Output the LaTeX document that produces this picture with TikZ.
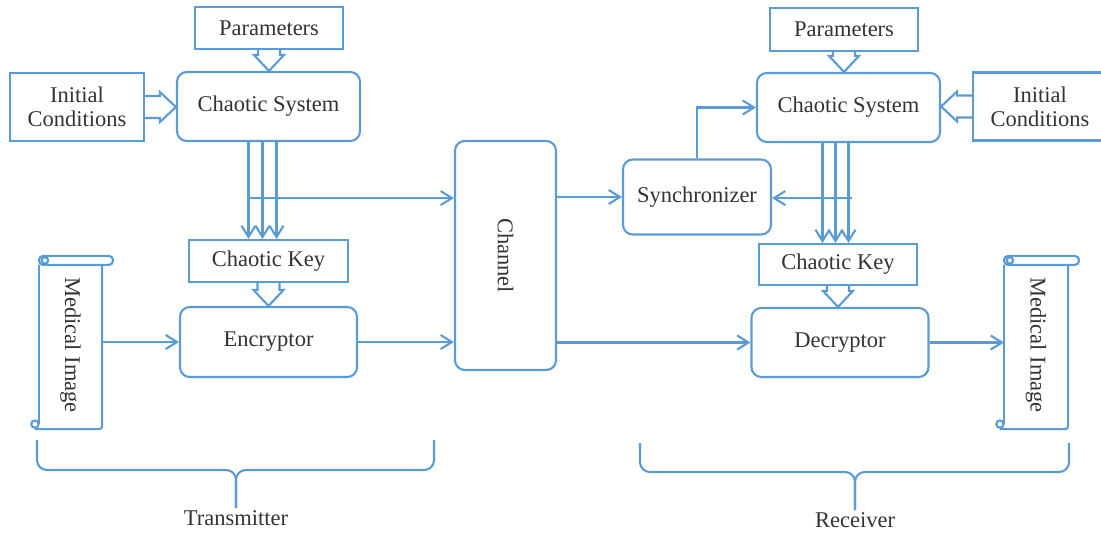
\documentclass[tikz,border=0pt]{standalone}
\usepackage{fontspec}
\setmainfont{Liberation Serif}
\usetikzlibrary{calc,arrows.meta}
\definecolor{lineblue}{RGB}{91,155,213}
\tikzset{
	box/.style={draw, inner sep=0pt, align=center, text=black!80},
	rbox/.style={box, rounded corners=7pt},
	arr/.style={-{Straight Barb[length=8pt,width=10pt]}},
	fat/.style={line join=miter, to path={
		($(\tikztostart)!0.275cm!90:(\tikztotarget)$)
		-- ($(\tikztotarget)!0.4cm!(\tikztostart)!0.275cm!-90:(\tikztostart)$)
		-- ($(\tikztotarget)!0.4cm!(\tikztostart)!0.375cm!-90:(\tikztostart)$)
		-- (\tikztotarget)
		-- ($(\tikztotarget)!0.4cm!(\tikztostart)!0.375cm!90:(\tikztostart)$)
		-- ($(\tikztotarget)!0.4cm!(\tikztostart)!0.275cm!90:(\tikztostart)$)
		-- ($(\tikztostart)!0.275cm!-90:(\tikztotarget)$)}}
}
\def\scroll#1{%
	\draw[rounded corners=3pt] ($(#1.north west)+(0,-5)$) rectangle ($(#1.north east)+(11,4)$);
	\draw ($(#1.north west)+(6,-0.5)$) circle (2.3pt);
	\draw ($(#1.north west)+(0,4)$) -- ($(#1.south west)+(0,-5)$);
	\draw ($(#1.south west)+(-4,-5)$) circle (2.6pt);
	\draw[rounded corners=2pt] ($(#1.south west)+(-4,0)$) -- (#1.south east) -- ($(#1.north east)+(0,4)$);
}

\begin{document}
\begin{tikzpicture}[x=0.025cm, y=-0.025cm, line width=1.5pt, lineblue, font=\fontsize{16}{17}\selectfont]
			%%%%% START %%%%%
			\useasboundingbox (0,0) rectangle (1101,533);
			\clip (0,0) rectangle (1101,533);
			
			% transmitter
			\node[box, minimum width=3.7cm, minimum height=1.05cm] (parL) at (269,28) {Parameters};
			\node[rbox, minimum width=4.575cm, minimum height=1.725cm] (csL) at (268.5,106.5) {Chaotic System};
			\node[box, minimum width=3.35cm, minimum height=1.7cm] (icL) at (77,107) {Initial\\Conditions};
			\node[box, minimum width=3.975cm, minimum height=1.05cm] (ckL) at (268.5,261) {Chaotic Key};
			\node[rbox, minimum width=4.425cm, minimum height=1.75cm] (enc) at (268.5,342) {Encryptor};
			\node[inner sep=0pt, text=black!80, minimum width=1.525cm, minimum height=4.15cm] (medL) at (70.5,345) {\rotatebox{-90}{Medical Image}};
			\scroll{medL}
			
			% channel
			\node[rbox, minimum width=2.525cm, minimum height=5.725cm] (chan) at (505.5,255.5) {\rotatebox{-90}{Channel}};
			
			% receiver
			\node[rbox, minimum width=3.7cm, minimum height=1.875cm] (sync) at (697,197) {Synchronizer};
			\node[rbox, minimum width=4.575cm, minimum height=1.725cm] (csR) at (848.5,107.5) {Chaotic System};
			\node[box, minimum width=3.7cm, minimum height=1.075cm] (parR) at (844,29.5) {Parameters};
			\node[box, minimum width=3.35cm, minimum height=1.7cm] (icR) at (1040,106.5) {Initial\\Conditions};
			\node[box, minimum width=3.95cm, minimum height=1.025cm] (ckR) at (838,264.5) {Chaotic Key};
			\node[rbox, minimum width=4.425cm, minimum height=1.725cm] (dec) at (840,342.5) {Decryptor};
			\node[inner sep=0pt, text=black!80, minimum width=1.55cm, minimum height=4.15cm] (medR) at (1036,345) {\rotatebox{-90}{Medical Image}};
			\scroll{medR}
			
			% block arrows
			\draw[fat] (parL.south) to (parL.south |- csL.north);
			\draw[fat] (icL.east) to (icL.east -| csL.west);
			\draw[fat] (ckL.south) to (ckL.south |- enc.north);
			\draw[fat] (parR.south) to (parR.south |- csR.north);
			\draw[fat] (icR.west) to (icR.west -| csR.east);
			\draw[fat] (ckR.south) to (ckR.south |- dec.north);
			
			% key streams
			\foreach \dx in {-20,-6,8}
				\draw[arr] ($(csL.south)+(\dx,0)$) -- ($(ckL.north)+(\dx,0)$);
			\coordinate (tapL) at ($(csL.south)+(-20,56)$);
			\draw[arr] (tapL) -- (tapL -| chan.west);
			\foreach \dx in {-26,-13,0}
				\draw[arr] ($(csR.south)+(\dx,0)$) -- ($(csR.south |- ckR.north)+(\dx,0)$);
			\coordinate (tapR) at ($(csR.south)+(3,55)$);
			\draw[arr] (tapR) -- (tapR -| sync.east);
			
			% data path
			\draw[arr] (medL.east |- enc.west) -- (enc.west);
			\draw[arr] (enc.east) -- (enc.east -| chan.west);
			\draw[arr] (sync.west -| chan.east) -- (sync.west);
			\draw[arr] (dec.west -| chan.east) -- (dec.west);
			\draw[arr] (sync.north) |- (csR.west);
			\draw[arr] (dec.east) -- (dec.east -| medR.west);
			
			% braces
			\draw[rounded corners=7pt] (37,440) -- (37,470) -- (236,470) -- (236,508);
			\draw[rounded corners=7pt] (434,440) -- (434,470) -- (236,470) -- (236,508);
			\node[text=black!80] (tx) at (236,518) {Transmitter};
			\draw[rounded corners=7pt] (640,443) -- (640,472) -- (855,472) -- (855,510);
			\draw[rounded corners=7pt] (1069,443) -- (1069,472) -- (855,472) -- (855,510);
			\node[text=black!80] (rx) at (855,520) {Receiver};
			
			%%%%% END %%%%%
		\end{tikzpicture}
\end{document}
